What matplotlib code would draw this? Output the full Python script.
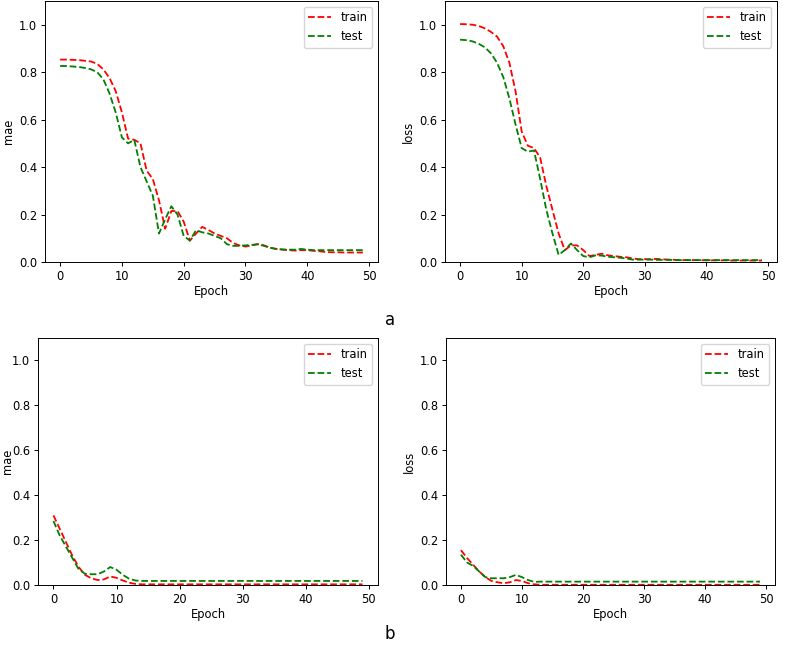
import numpy as np
import matplotlib.pyplot as plt

# %% values (50 epochs)
epochs = np.arange(50)

mae_a_train = [0.853, 0.853, 0.852, 0.851, 0.848, 0.845, 0.835, 0.812, 0.775, 0.72,
               0.63, 0.52, 0.515, 0.50, 0.385, 0.35, 0.26, 0.14, 0.215, 0.215,
               0.17, 0.09, 0.12, 0.148, 0.135, 0.12, 0.11, 0.10, 0.08, 0.07,
               0.065, 0.07, 0.075, 0.07, 0.06, 0.055, 0.052, 0.05, 0.048, 0.05,
               0.05, 0.047, 0.045, 0.042, 0.041, 0.041, 0.04, 0.04, 0.04, 0.04]
mae_a_test = [0.826, 0.826, 0.824, 0.822, 0.818, 0.812, 0.80, 0.77, 0.71, 0.63,
              0.525, 0.50, 0.515, 0.40, 0.34, 0.28, 0.12, 0.18, 0.235, 0.20,
              0.11, 0.09, 0.134, 0.125, 0.12, 0.11, 0.10, 0.075, 0.068, 0.068,
              0.07, 0.072, 0.075, 0.068, 0.06, 0.055, 0.053, 0.052, 0.052, 0.055,
              0.052, 0.05, 0.05, 0.05, 0.05, 0.05, 0.05, 0.05, 0.05, 0.05]

loss_a_train = [1.003, 1.002, 1.0, 0.995, 0.985, 0.97, 0.95, 0.91, 0.84, 0.72,
                0.55, 0.49, 0.48, 0.44, 0.32, 0.22, 0.12, 0.05, 0.07, 0.07,
                0.05, 0.025, 0.03, 0.035, 0.028, 0.025, 0.022, 0.02, 0.015, 0.012,
                0.012, 0.012, 0.013, 0.011, 0.01, 0.009, 0.008, 0.008, 0.008, 0.008,
                0.007, 0.007, 0.007, 0.007, 0.006, 0.006, 0.006, 0.006, 0.006, 0.006]
loss_a_test = [0.937, 0.935, 0.93, 0.92, 0.905, 0.88, 0.84, 0.78, 0.69, 0.58,
               0.48, 0.465, 0.47, 0.35, 0.22, 0.12, 0.03, 0.05, 0.078, 0.05,
               0.025, 0.02, 0.028, 0.027, 0.022, 0.02, 0.018, 0.015, 0.01, 0.01,
               0.01, 0.01, 0.009, 0.009, 0.009, 0.008, 0.008, 0.008, 0.008, 0.008,
               0.008, 0.008, 0.008, 0.008, 0.008, 0.008, 0.008, 0.008, 0.008, 0.008]

mae_b_train = [0.31, 0.25, 0.19, 0.13, 0.08, 0.045, 0.03, 0.022, 0.025, 0.038,
               0.032, 0.02, 0.01, 0.005] + [0.003] * 36
mae_b_test = [0.285, 0.22, 0.17, 0.12, 0.07, 0.05, 0.048, 0.048, 0.06, 0.08,
              0.068, 0.045, 0.028, 0.02] + [0.018] * 36

loss_b_train = [0.155, 0.12, 0.09, 0.06, 0.035, 0.018, 0.012, 0.008, 0.012, 0.022,
                0.018, 0.008, 0.003] + [0.001] * 37
loss_b_test = [0.135, 0.10, 0.085, 0.06, 0.035, 0.03, 0.03, 0.03, 0.035, 0.045,
               0.035, 0.022, 0.014] + [0.015] * 37

# %% plotting
W, H = 786, 645
fs = 8.3
plt.rcParams['font.size'] = fs
plt.rcParams['xtick.major.size'] = 3
plt.rcParams['ytick.major.size'] = 3
plt.rcParams['axes.linewidth'] = 0.7

fig = plt.figure(figsize=(W / 100, H / 100), dpi=100)

def add_ax(left, top, right, bottom):
    return fig.add_axes([left / W, 1 - bottom / H, (right - left) / W, (bottom - top) / H])

panels = [
    (add_ax(45, 1, 378, 262), mae_a_train, mae_a_test, 'mae'),
    (add_ax(445, 1, 777, 262), loss_a_train, loss_a_test, 'loss'),
    (add_ax(38, 338, 378, 585), mae_b_train, mae_b_test, 'mae'),
    (add_ax(446, 338, 775, 585), loss_b_train, loss_b_test, 'loss'),
]

for ax, tr, te, name in panels:
    ax.plot(epochs, tr, 'r--', lw=1.3, label='train')
    ax.plot(epochs, te, 'g--', lw=1.3, label='test')
    ax.set_ylim(0, 1.1)
    ax.set_xticks([0, 10, 20, 30, 40, 50])
    ax.set_yticks([0.0, 0.2, 0.4, 0.6, 0.8, 1.0])
    ax.set_xlabel('Epoch', labelpad=2)
    ax.set_ylabel(name, labelpad=3)
    ax.tick_params(labelsize=fs, pad=2.5, width=0.7)
    ax.legend(loc='upper right', fontsize=fs)

# bottom-left label sits right at the figure edge
panels[2][0].yaxis.set_label_coords(-0.07, 0.5)

fig.text(390 / W, 1 - 320 / H, 'a', ha='center', va='center', fontsize=12)
fig.text(390 / W, 1 - 634 / H, 'b', ha='center', va='center', fontsize=12)

fig.savefig('out.png', dpi=100)
